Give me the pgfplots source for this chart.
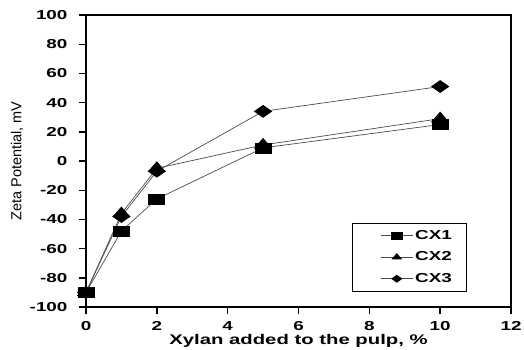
\documentclass[border=0pt]{standalone}
\usepackage{fontspec}
\setmainfont{Liberation Sans}
\usepackage{graphicx}
\usepackage{pgfplots}
\pgfplotsset{compat=1.18}
\begin{document}
\begin{tikzpicture}
\begin{axis}[
  scale only axis, width=425pt, height=292pt,
  xmin=0, xmax=12, ymin=-100, ymax=100,
  xtick={0,2,...,12}, ytick={-100,-80,...,100},
  tick pos=left, tick align=outside, major tick length=7pt,
  axis line style={line width=1.6pt},
  every tick/.style={line width=1.4pt, black},
  /pgf/number format/assume math mode=true,
  xticklabel={\scalebox{1.45}[1]{\bfseries\pgfmathprintnumber{\tick}}},
  yticklabel={\scalebox{1.45}[1]{\bfseries\pgfmathprintnumber{\tick}}},
  ticklabel style={font=\fontsize{13}{15}\selectfont},
  yticklabel style={xshift=-8pt},
  xticklabel style={yshift=-4pt},
  xlabel={\scalebox{1.45}[1]{\bfseries Xylan added to the pulp, \%}},
  ylabel={Zeta Potential, mV},
  xlabel style={at={(axis description cs:0.5,-0.117)}, anchor=center, font=\fontsize{14}{16}\selectfont},
  ylabel style={at={(axis description cs:-0.162,0.5)}, anchor=center, font=\fontsize{14.5}{16}\selectfont},
  legend style={at={(axis description cs:0.626,0.288)}, anchor=north west, draw=black, line width=0.8pt,
    font=\fontsize{13}{15}\selectfont\bfseries, row sep=7pt, inner xsep=4pt, inner ysep=5pt,
    /tikz/every even column/.append style={column sep=2pt}},
  legend cell align=left,
  legend image code/.code={\path (0pt,0pt); \draw[mark repeat=2,mark phase=2,#1] plot coordinates {(24pt,0pt)(40pt,0pt)(56pt,0pt)};},
  legend image post style={mark size=3.5pt},
  every axis plot/.append style={line width=0.7pt, color=black!70},
]
\addplot[mark=square*, mark size=5pt, mark options={xscale=1.6, fill=black, draw=black}] coordinates {(0,-90)(1,-48)(2,-26)(5,9)(10,25)};
\addlegendentry{\scalebox{1.45}[1]{CX1}\rule{9pt}{0pt}}
\addplot[mark=triangle*, mark size=6.5pt, mark options={xscale=1.5, fill=black, draw=black}] coordinates {(0,-90)(1,-36)(2,-5)(5,11)(10,29)};
\addlegendentry{\scalebox{1.45}[1]{CX2}\rule{9pt}{0pt}}
\addplot[mark=diamond*, mark size=6pt, mark options={xscale=1.9, fill=black, draw=black}] coordinates {(0,-90)(1,-38)(2,-7)(5,34)(10,51)};
\addlegendentry{\scalebox{1.45}[1]{CX3}\rule{9pt}{0pt}}
\end{axis}
\pgfresetboundingbox
\path (-86pt,-42pt) rectangle (438pt,307pt);
\end{tikzpicture}
\end{document}
